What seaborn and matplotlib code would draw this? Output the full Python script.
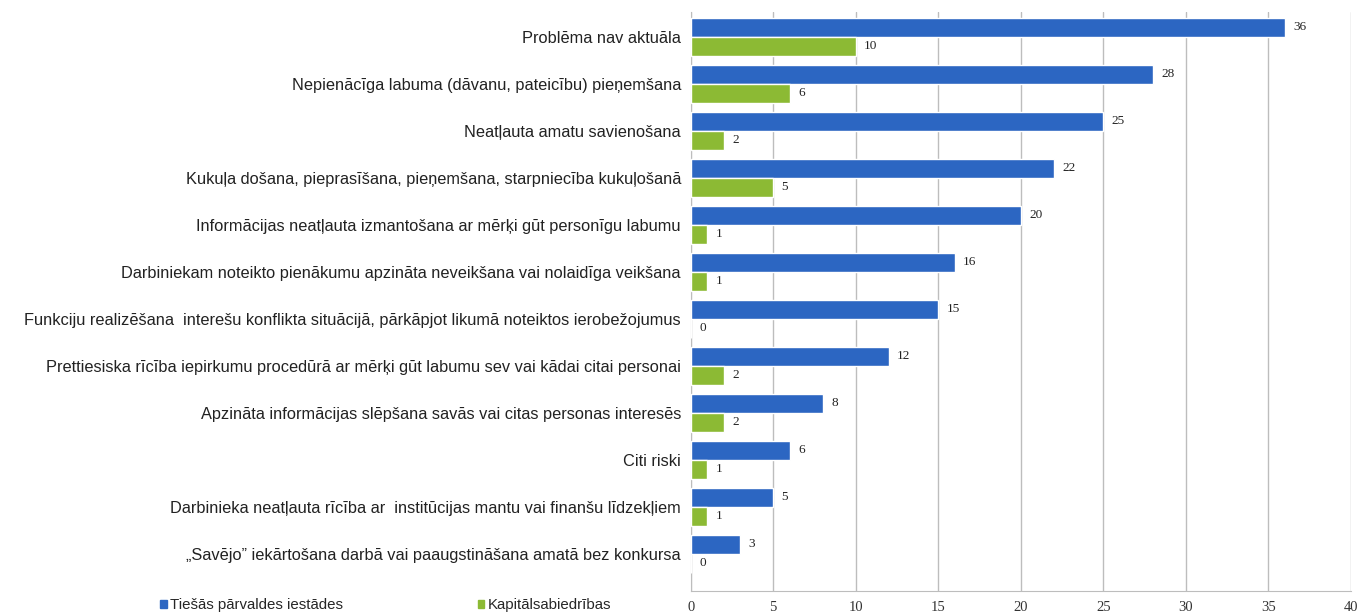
import numpy as np
import pandas as pd
import matplotlib.pyplot as plt
import seaborn as sns

# Dati
categories = [
    "Problēma nav aktuāla",
    "Nepienācīga labuma (dāvanu, pateicību) pieņemšana",
    "Neatļauta amatu savienošana",
    "Kukuļa došana, pieprasīšana, pieņemšana, starpniecība kukuļošanā",
    "Informācijas neatļauta izmantošana ar mērķi gūt personīgu labumu",
    "Darbiniekam noteikto pienākumu apzināta neveikšana vai nolaidīga veikšana",
    "Funkciju realizēšana  interešu konflikta situācijā, pārkāpjot likumā noteiktos ierobežojumus",
    "Prettiesiska rīcība iepirkumu procedūrā ar mērķi gūt labumu sev vai kādai citai personai",
    "Apzināta informācijas slēpšana savās vai citas personas interesēs",
    "Citi riski",
    "Darbinieka neatļauta rīcība ar  institūcijas mantu vai finanšu līdzekļiem",
    "„Savējo” iekārtošana darbā vai paaugstināšana amatā bez konkursa",
]
series_names = ["Tiešās pārvaldes iestādes", "Kapitālsabiedrības"]
tiesas = [36, 28, 25, 22, 20, 16, 15, 12, 8, 6, 5, 3]
kapital = [10, 6, 2, 5, 1, 1, 0, 2, 2, 1, 1, 0]
x_ticks = [0, 5, 10, 15, 20, 25, 30, 35, 40]

df = pd.DataFrame({
    "kategorija": categories * 2,
    "grupa": [series_names[0]] * len(categories) + [series_names[1]] * len(categories),
    "skaits": tiesas + kapital,
})

sns.set_style("white")
plt.rcParams["font.family"] = ["Liberation Sans", "DejaVu Sans"]

fig = plt.figure(figsize=(13.61, 6.15), dpi=100)
ax = fig.add_axes([0.5075, 0.039, 0.485, 0.941])

colors = ["#2c66c2", "#8cba34"]
sns.barplot(data=df, y="kategorija", x="skaits", hue="grupa", order=categories,
            hue_order=series_names, palette=colors, saturation=1, orient="h", width=0.8,
            ax=ax, legend=False, zorder=3)

ax.set_xlim(0, 40)
ax.set_ylim(11.79, -0.52)
ax.set_xticks(x_ticks)
ax.set_xticklabels([str(t) for t in x_ticks], family="Liberation Serif", fontsize=10.5, color="#333333")
ax.tick_params(axis="x", length=0, pad=7)
ax.tick_params(axis="y", length=0, pad=7, labelsize=11.8, labelcolor="#222222")
ax.set_xlabel("")
ax.set_ylabel("")
ax.xaxis.grid(True, color="#bdbdbd", lw=1, zorder=0)
for s in ["top", "right"]:
    ax.spines[s].set_visible(False)
for s in ["left", "bottom"]:
    ax.spines[s].set_color("#bdbdbd")

# vertibu etiketes
for cont in ax.containers:
    ax.bar_label(cont, padding=6, fontsize=9.5, family="Liberation Serif", color="#222222")

# legenda
handles = [plt.Rectangle((0, 0), 1, 1, color=c) for c in colors]
fig.legend(handles[:1], series_names[:1], loc="center left", bbox_to_anchor=(0.108, 0.016),
           frameon=False, handlelength=0.45, handleheight=0.45, handletextpad=0.2, fontsize=10.8)
fig.legend(handles[1:], series_names[1:], loc="center left", bbox_to_anchor=(0.341, 0.016),
           frameon=False, handlelength=0.45, handleheight=0.45, handletextpad=0.2, fontsize=10.8)

fig.savefig("out.png", dpi=100)
